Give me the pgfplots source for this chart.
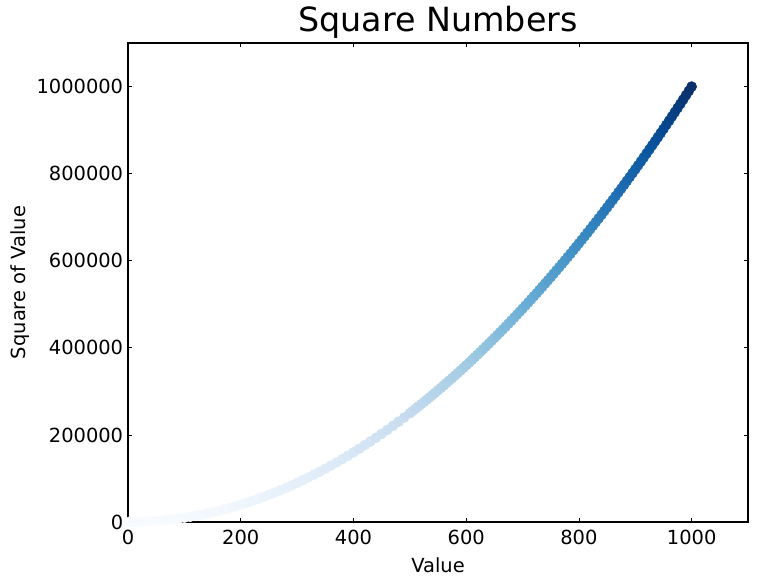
\documentclass[border=0pt]{standalone}
\usepackage{pgfplots}
\pgfplotsset{compat=1.18}
\usepackage{fontspec}
\setmainfont{DejaVu Sans}
\pgfplotsset{
  colormap={Blues}{rgb255=(247,251,255) rgb255=(222,235,247) rgb255=(198,219,239) rgb255=(158,202,225) rgb255=(107,174,214) rgb255=(66,146,198) rgb255=(33,113,181) rgb255=(8,81,156) rgb255=(8,48,107)}
}
\begin{document}
\begin{tikzpicture}
\begin{axis}[
  scale only axis,
  width=446.4pt, height=344.9pt,
  xmin=0, xmax=1100, ymin=0, ymax=1100000,
  xtick={0,200,400,600,800,1000},
  ytick={0,200000,400000,600000,800000,1000000},
  scaled ticks=false,
  /pgf/number format/assume math mode=true,
  /pgf/number format/fixed,
  /pgf/number format/1000 sep={},
  ticklabel style={font=\fontsize{14}{16}\selectfont},
  xticklabel style={yshift=-2pt},
  label style={font=\fontsize{14}{16}\selectfont},
  title style={font=\fontsize{24}{28}\selectfont, yshift=-6pt},
  title={Square Numbers},
  xlabel={Value}, ylabel={Square of Value},
  xlabel style={yshift=-3pt},
  ylabel style={yshift=-2pt},
  tick align=inside,
  major tick length=3pt,
  axis line style={line width=0.8pt},
  tick style={black, line width=0.6pt},
  colormap name=Blues,
  clip=false,
]
\addplot[scatter, only marks, mark=*, mark size=3.6pt, scatter/use mapped color={draw=mapped color, fill=mapped color}, point meta=y] coordinates {
(1,1)(10,100)(20,400)(30,900)(40,1600)(50,2500)(60,3600)(70,4900)(80,6400)(90,8100)
(100,10000)(110,12100)(120,14400)(130,16900)(140,19600)(150,22500)(160,25600)(170,28900)(180,32400)(190,36100)
(200,40000)(210,44100)(220,48400)(230,52900)(240,57600)(250,62500)(260,67600)(270,72900)(280,78400)(290,84100)
(300,90000)(310,96100)(320,102400)(330,108900)(340,115600)(350,122500)(360,129600)(370,136900)(380,144400)(390,152100)
(400,160000)(410,168100)(420,176400)(430,184900)(440,193600)(450,202500)(460,211600)(470,220900)(480,230400)(490,240100)
(500,250000)(505,255025)(510,260100)(515,265225)(520,270400)(525,275625)(530,280900)(535,286225)(540,291600)(545,297025)
(550,302500)(555,308025)(560,313600)(565,319225)(570,324900)(575,330625)(580,336400)(585,342225)(590,348100)(595,354025)
(600,360000)(605,366025)(610,372100)(615,378225)(620,384400)(625,390625)(630,396900)(635,403225)(640,409600)(645,416025)
(650,422500)(655,429025)(660,435600)(665,442225)(670,448900)(675,455625)(680,462400)(685,469225)(690,476100)(695,483025)
(700,490000)(705,497025)(710,504100)(715,511225)(720,518400)(725,525625)(730,532900)(735,540225)(740,547600)(745,555025)
(750,562500)(755,570025)(760,577600)(765,585225)(770,592900)(775,600625)(780,608400)(785,616225)(790,624100)(795,632025)
(800,640000)(805,648025)(810,656100)(815,664225)(820,672400)(825,680625)(830,688900)(835,697225)(840,705600)(845,714025)
(850,722500)(855,731025)(860,739600)(865,748225)(870,756900)(875,765625)(880,774400)(885,783225)(890,792100)(895,801025)
(900,810000)(905,819025)(910,828100)(915,837225)(920,846400)(925,855625)(930,864900)(935,874225)(940,883600)(945,893025)
(950,902500)(955,912025)(960,921600)(965,931225)(970,940900)(975,950625)(980,960400)(985,970225)(990,980100)(995,990025)
(1000,1000000)
};
\end{axis}
\pgfresetboundingbox
\path (-92.2pt,-43.9pt) rectangle (453.6pt,375.9pt);
\end{tikzpicture}
\end{document}
